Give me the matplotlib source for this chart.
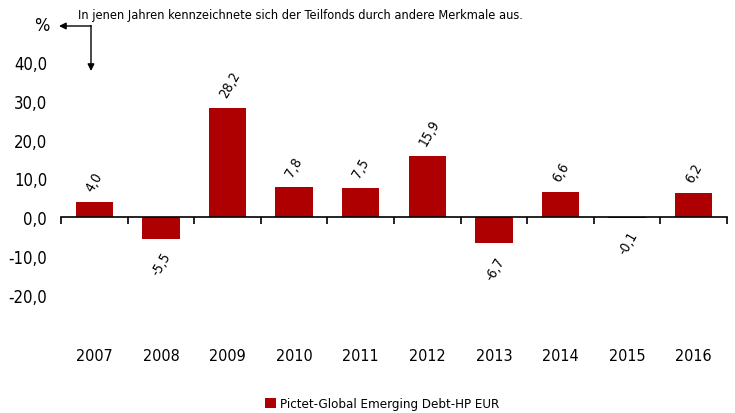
import matplotlib
matplotlib.use("Agg")
import matplotlib.pyplot as plt
from matplotlib import font_manager
from matplotlib.transforms import blended_transform_factory

years = ["2007", "2008", "2009", "2010", "2011", "2012", "2013", "2014", "2015", "2016"]
returns = [4.0, -5.5, 28.2, 7.8, 7.5, 15.9, -6.7, 6.6, -0.1, 6.2]
y_ticks = [40, 30, 20, 10, 0, -10, -20]
series_name = "Pictet-Global Emerging Debt-HP EUR"
note = "In jenen Jahren kennzeichnete sich der Teilfonds durch andere Merkmale aus."

# pick a narrow face if one is installed
fonts = font_manager.fontManager.ttflist
cond = [f for f in fonts if f.name == "DejaVu Sans" and f.stretch == "condensed"]
if cond:
    plt.rcParams["font.family"] = ["DejaVu Sans"]
    plt.rcParams["font.stretch"] = "condensed"
    sz = 1.0
else:
    plt.rcParams["font.family"] = ["Roboto", "DejaVu Sans"]
    sz = 0.9

bar_color = "#AE0000"

fig = plt.figure(figsize=(7.35, 4.14), dpi=100)
ax = fig.add_axes([61 / 735, 1 - 335 / 414, 666 / 735, 311 / 414])

x = list(range(len(years)))
ax.bar(x, returns, width=0.56, color=bar_color, zorder=2, label=series_name)
ax.set_xlim(-0.5, len(years) - 0.5)
ax.set_ylim(-30, 50)

for s in ["top", "right", "left"]:
    ax.spines[s].set_visible(False)
ax.spines["bottom"].set_position(("data", 0))
ax.spines["bottom"].set_linewidth(1.2)

ax.set_yticks(y_ticks)
ax.set_yticklabels([f"{v:.1f}".replace(".", ",") for v in y_ticks], fontsize=12 * sz)
ax.tick_params(axis="y", length=0, pad=10)

ax.set_xticks([i - 0.5 for i in range(len(years) + 1)])
ax.set_xticklabels([])
ax.tick_params(axis="x", direction="out", length=5, width=1.2)

trans = blended_transform_factory(ax.transData, ax.transAxes)
for i, yr in enumerate(years):
    ax.text(i, -0.07, yr, transform=trans, ha="center", va="center", fontsize=11.5 * sz)

for i, v in enumerate(returns):
    lbl = f"{v:.1f}".replace(".", ",")
    if v >= 0:
        ax.annotate(lbl, (i, v), xytext=(-5, 12), textcoords="offset pixels",
                    rotation=60, rotation_mode="anchor", ha="left", va="center", fontsize=10 * sz)
    else:
        ax.annotate(lbl, (i, v), xytext=(7, -14), textcoords="offset pixels",
                    rotation=60, rotation_mode="anchor", ha="right", va="center", fontsize=10 * sz)

# "%" label and note with arrow
fig.text(42 / 735, 1 - 26 / 414, "%", ha="center", va="center", fontsize=13 * sz)
fig.text(78 / 735, 1 - 15 / 414, note, ha="left", va="center", fontsize=9.2 * sz)
corner = (91 / 735, 1 - 27 / 414)
ax.annotate("", xy=(59 / 735, corner[1]), xytext=corner, xycoords="figure fraction",
            textcoords="figure fraction",
            arrowprops=dict(arrowstyle="-|>", color="black", lw=1, shrinkA=0, shrinkB=0))
ax.annotate("", xy=(corner[0], 1 - 72 / 414), xytext=(corner[0], 1 - 26.5 / 414),
            xycoords="figure fraction", textcoords="figure fraction",
            arrowprops=dict(arrowstyle="-|>", color="black", lw=1, shrinkA=0, shrinkB=0))

fig.legend(loc="center", bbox_to_anchor=(0.52, 1 - 405 / 414), frameon=False,
           fontsize=9.5 * sz, handlelength=0.8, handleheight=0.8, handletextpad=0.3)

fig.savefig("out.png", dpi=100)
